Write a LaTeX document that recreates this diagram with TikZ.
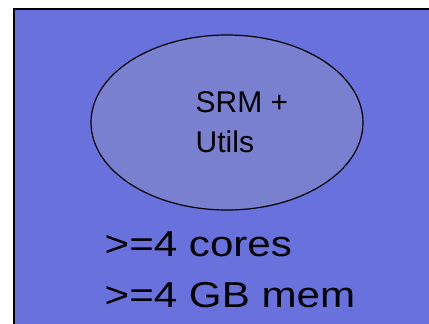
\documentclass[tikz,border=0pt]{standalone}
\usepackage{fontspec}
\setmainfont{Liberation Sans}
\usetikzlibrary{shapes.geometric}
\definecolor{boxblue}{RGB}{105,113,220}
\definecolor{ellfill}{RGB}{121,128,207}
\tikzset{
  box/.style={draw=black, line width=2pt, fill=boxblue},
  cloud/.style={ellipse, draw=black, line width=1.2pt, fill=ellfill, minimum width=272pt, minimum height=175pt, inner sep=0pt},
  small/.style={anchor=base west, inner sep=0pt, font=\fontsize{30}{40}\selectfont},
  big/.style={anchor=base west, inner sep=0pt, font=\fontsize{36}{51}\selectfont}
}
\begin{document}
\begin{tikzpicture}[x=1pt,y=-1pt]
\useasboundingbox (0,0) rectangle (429,324);
\begin{scope}
\clip (0,0) rectangle (429,324);
\draw[box] (14,9) rectangle (450,345);
\end{scope}
\node[cloud] (srm) at (227,122.5) {};
\node[small] (l1) at (195.5,112.7) {SRM +};
\node[small] (l2) at (195.5,152.7) {Utils};
\node[big] (c1) at (104.5,256) {\scalebox{1.17}[1]{>=4 cores}};
\node[big] (c2) at (104.5,307) {\scalebox{1.17}[1]{>=4 GB mem}};
\end{tikzpicture}
\end{document}
